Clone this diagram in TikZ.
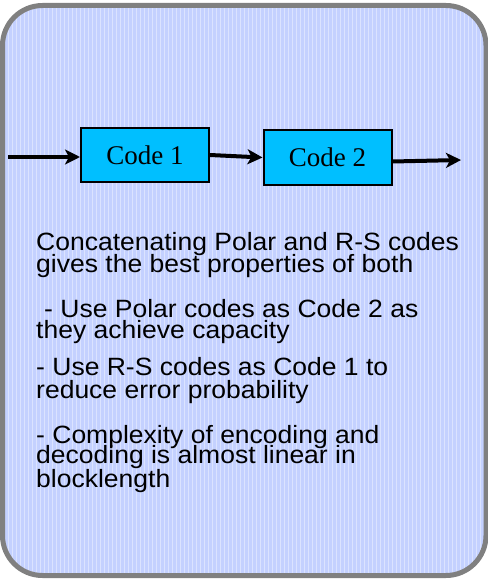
\documentclass[tikz,border=0pt]{standalone}
\usepackage{fontspec}
\setmainfont{Liberation Serif}
\setsansfont{Liberation Sans}
\usetikzlibrary{arrows.meta}

\definecolor{panelfill}{HTML}{C4D1FF}
\definecolor{panelline}{HTML}{808080}
\definecolor{boxfill}{HTML}{00BFFF}

\tikzset{
  panel/.style={draw=panelline, line width=5pt, rounded corners=40pt},
  codebox/.style={draw=black, line width=2pt, fill=boxfill,
    minimum width=128pt, minimum height=54pt, inner sep=0pt,
    font=\fontsize{27}{27}\selectfont},
  flow/.style={line width=4pt,
    -{Stealth[length=15pt, width=15pt, inset=4pt]}},
  bodytext/.style={anchor=base west, inner sep=0pt, xscale=1.06,
    font=\sffamily\fontsize{25}{25}\selectfont}
}

\begin{document}
\begin{tikzpicture}[x=1pt, y=-1pt]
  \useasboundingbox (0,0) rectangle (487,580);

  % panel background with a fine grid texture
  \begin{scope}
    \clip[rounded corners=40pt] (2.5,5.5) rectangle (486,575.5);
    \fill[panelfill] (0,0) rectangle (487,580);
    \draw[white, opacity=0.4, line width=1pt, step=4] (0,0) grid (487,580);
  \end{scope}
  \draw[panel] (2.5,5.5) rectangle (486,575.5);

  % the two concatenated codes
  \node[codebox] (c1) at (145,155) {Code 1};
  \node[codebox] (c2) at (327.5,157.5) {Code 2};

  \coordinate (src) at (8,157);
  \coordinate (snk) at (461,160);

  \draw[flow] (src) -- (c1.west |- src);
  \draw[flow] (c1.east) -- (c2.west);
  \draw[flow] ([yshift=-4pt]c2.east) -- (snk);

  % explanation
  \node[bodytext] (t1) at (36,250) {Concatenating Polar and R-S codes};
  \node[bodytext] (t2) at (36,272) {gives the best properties of both};
  \node[bodytext] (t3) at (44,317) {- Use Polar codes as Code 2 as};
  \node[bodytext] (t4) at (36,338) {they achieve capacity};
  \node[bodytext] (t5) at (36,375) {- Use R-S codes as Code 1 to};
  \node[bodytext] (t6) at (36,398) {reduce error probability};
  \node[bodytext] (t7) at (36,443) {- Complexity of encoding and};
  \node[bodytext] (t8) at (36,463) {decoding is almost linear in};
  \node[bodytext] (t9) at (36,487) {blocklength};
\end{tikzpicture}
\end{document}
